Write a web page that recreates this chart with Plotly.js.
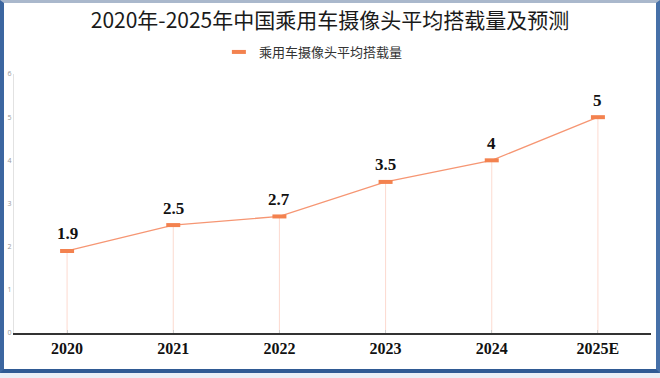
<!DOCTYPE html>
<html>
<head>
<meta charset="utf-8">
<script src="https://cdn.plot.ly/plotly-3.0.1.min.js"></script>
<style>
  html, body { margin: 0; padding: 0; background: #ffffff; }
  #outer { width: 660px; height: 378px; background: #e9eff7; position: relative; overflow: hidden; }
  #frame { position: absolute; left: 0; top: 0; width: 660px; height: 373px; box-sizing: border-box;
           border-top: 3px solid #aab8cc; border-left: 4px solid #3c66a0; border-right: 4px solid #4670a8;
           border-bottom: 4px solid #2f5a94; background: #ffffff; }
  #chart { width: 652px; height: 366px; }
</style>
</head>
<body>
<div id="outer"><div id="frame"><div id="chart"></div></div></div>
<script>
const categories = ['2020', '2021', '2022', '2023', '2024', '2025E'];
const values = [1.9, 2.5, 2.7, 3.5, 4, 5];
const seriesName = '乘用车摄像头平均搭载量';
const chartTitle = '2020年-2025年中国乘用车摄像头平均搭载量及预测';
const yTicks = [0, 1, 2, 3, 4, 5, 6];

const lineColor = 'rgb(246,150,115)';
const markerColor = '#f3824f';

const trace = {
  type: 'scatter',
  mode: 'lines+markers',
  name: seriesName,
  x: categories,
  y: values,
  showlegend: false,
  line: { color: lineColor, width: 1.3 },
  marker: { symbol: 'line-ew', size: 10, color: markerColor, line: { color: markerColor, width: 4 } },
  error_y: {
    type: 'data', symmetric: false,
    array: values.map(() => 0),
    arrayminus: values,
    thickness: 1, width: 0,
    color: 'rgba(245,150,120,0.35)'
  },
  cliponaxis: false,
  hoverinfo: 'x+y'
};

const legendTrace = {
  type: 'scatter',
  mode: 'markers',
  name: seriesName,
  x: [null], y: [null],
  showlegend: true,
  marker: { symbol: 'line-ew', size: 10, color: markerColor, line: { color: markerColor, width: 4 } }
};

const annotations = categories.map((c, i) => ({
  x: i, y: values[i], xref: 'x', yref: 'y',
  text: String(values[i]), showarrow: false, yshift: 17,
  font: { family: 'Liberation Serif, Times New Roman, serif', size: 17, color: '#111', weight: 'bold' }
}));

const layout = {
  width: 652, height: 366,
  margin: { l: 10, r: 5, t: 71, b: 36 },
  paper_bgcolor: '#ffffff',
  plot_bgcolor: '#ffffff',
  title: {
    text: chartTitle,
    x: 0.5, xanchor: 'center',
    y: 1 - 18 / 366, yanchor: 'middle', yref: 'container',
    font: { family: 'Noto Sans CJK SC, sans-serif', size: 21, color: '#1a1a1a', weight: 400 }
  },
  showlegend: true,
  legend: {
    orientation: 'h', x: 0.47, xanchor: 'center', y: 1.085, yanchor: 'middle',
    font: { family: 'Noto Sans CJK SC, sans-serif', size: 13, color: '#333' },
    itemwidth: 30
  },
  xaxis: {
    type: 'category',
    range: [-0.5, 5.5],
    showline: true, linecolor: '#333333', linewidth: 2,
    showgrid: false, zeroline: false,
    ticks: 'inside', ticklen: 3, tickcolor: '#cccccc',
    tickfont: { family: 'Liberation Serif, Times New Roman, serif', size: 16, color: '#111', weight: 'bold' },
    automargin: false
  },
  yaxis: {
    range: [0, 6],
    tickvals: yTicks,
    showline: true, linecolor: '#e2e2e2', linewidth: 1,
    showgrid: false, zeroline: false,
    ticks: '',
    tickfont: { family: 'Open Sans, sans-serif', size: 7, color: '#9a9a9a' },
    automargin: false
  },
  annotations: annotations
};

Plotly.newPlot('chart', [trace, legendTrace], layout, { displayModeBar: false, staticPlot: true });
</script>
</body>
</html>
